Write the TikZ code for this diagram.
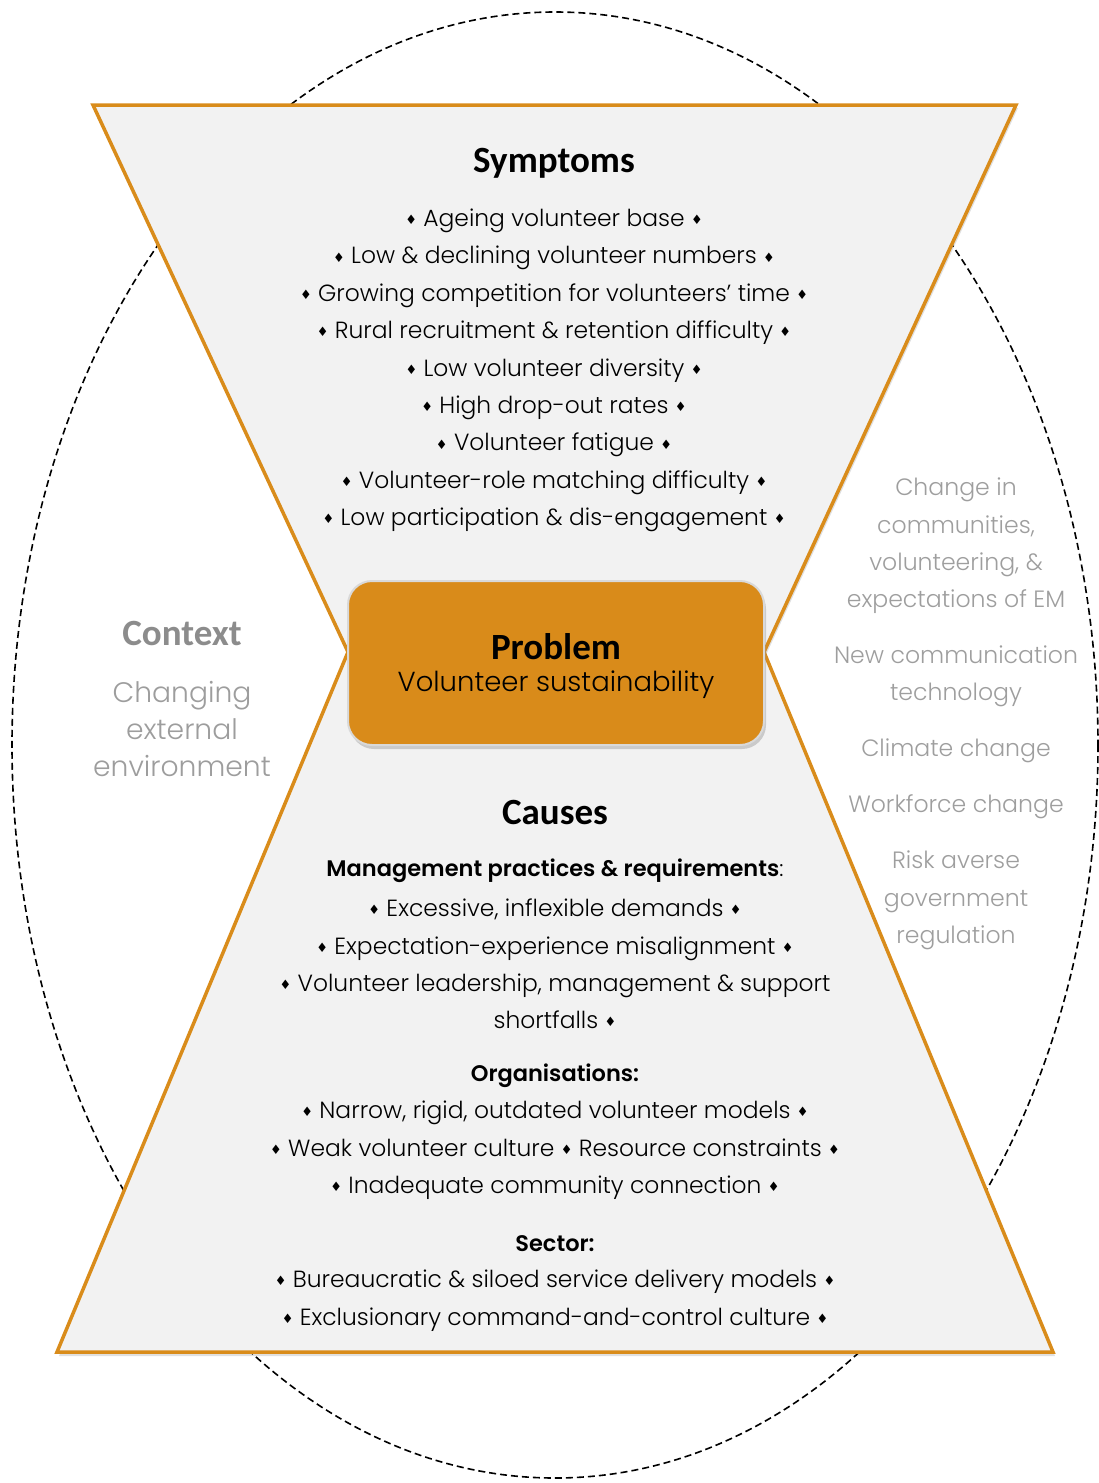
\documentclass[tikz,border=0pt]{standalone}
\usepackage{fontspec}
\setmainfont{Poppins}[UprightFont={* Light}, BoldFont={* SemiBold}]
\newfontfamily\carlito{Carlito}
\newfontfamily\dejavu{DejaVu Sans}
\usetikzlibrary{shadows}
\definecolor{orng}{HTML}{D98C1B}
\definecolor{boxfill}{HTML}{D98B1A}
\definecolor{shapefill}{HTML}{F2F2F2}
\definecolor{ctxgray}{HTML}{8C8C8C}
\definecolor{rgray}{HTML}{9E9E9E}
\newcommand{\dm}{{\dejavu\fontsize{13}{13}\selectfont\raisebox{0.15em}{♦}}}
\tikzset{
  shapestyle/.style={fill=shapefill, draw=orng, line width=3.5pt, line join=miter},
  shadowstyle/.style={fill=black, opacity=0.12},
  body/.style={font=\fontsize{23.4}{37.4}\selectfont, align=center, text=black},
  heading/.style={font=\carlito\bfseries\fontsize{37}{40}\selectfont, text=black},
  subhead/.style={font=\bfseries\fontsize{22.5}{37.4}\selectfont, text=black},
  righttext/.style={font=\fontsize{23.6}{37.4}\selectfont, align=center, text=rgray},
  ctxtext/.style={font=\fontsize{28.2}{37.4}\selectfont, align=center, text=ctxgray!85},
}
\begin{document}
\begin{tikzpicture}[x=1pt,y=-1pt]
\useasboundingbox (0,0) rectangle (1099,1483);
% dashed ellipse
\draw[dashed, line width=1.6pt, dash pattern=on 7pt off 4pt] (555,745) ellipse [x radius=543, y radius=733];
% shadows
\fill[shadowstyle] (95,108) -- (1018,108) -- (766,655) -- (350,655) -- cycle;
\fill[shadowstyle] (350,655) -- (766,655) -- (1055,1356) -- (59,1356) -- cycle;
% symptoms shape
\path[shapestyle] (93,105) -- (1016,105) -- (764,652) -- (348,652) -- cycle;
% causes shape
\path[shapestyle] (348,652) -- (764,652) -- (1053,1352) -- (57,1352) -- cycle;
% problem box
\node[draw=white!85!black, line width=2pt, fill=boxfill, rounded corners=24pt,
      minimum width=416pt, minimum height=164pt, inner sep=0pt,
      drop shadow={opacity=0.35, shadow xshift=2pt, shadow yshift=-4pt}] (problem) at (556,663) {};
\node[heading] (problemtitle) at (556,647) {Problem};
\node[font=\fontsize{27.5}{30}\selectfont] (problemtext) at (556,685) {Volunteer sustainability};
% symptoms
\node[heading] (symptoms) at (554,163) {Symptoms};
\node[body] (symlist) at (554,370.5) {%
\dm\ Ageing volunteer base \dm\\
\dm\ Low \& declining volunteer numbers \dm\\
\dm\ Growing competition for volunteers’ time \dm\\
\dm\ Rural recruitment \& retention difficulty \dm\\
\dm\ Low volunteer diversity \dm\\
\dm\ High drop-out rates \dm\\
\dm\ Volunteer fatigue \dm\\
\dm\ Volunteer-role matching difficulty \dm\\
\dm\ Low participation \& dis-engagement \dm};
% causes
\node[heading] (causes) at (555,812) {Causes};
\node[subhead] (mgmt) at (555,871) {Management practices \& requirements{\mdseries:}};
\node[body] (mgmtlist) at (555,964) {%
\dm\ Excessive, inflexible demands \dm\\
\dm\ Expectation-experience misalignment \dm\\
\dm\ Volunteer leadership, management \& support\\
shortfalls \dm};
\node[subhead] (orgs) at (555,1076) {Organisations:};
\node[body] (orglist) at (555,1150.5) {%
\dm\ Narrow, rigid, outdated volunteer models \dm\\
\dm\ Weak volunteer culture \dm\ Resource constraints \dm\\
\dm\ Inadequate community connection \dm};
\node[subhead] (sector) at (555,1244) {Sector:};
\node[body] (sectorlist) at (555,1300.5) {%
\dm\ Bureaucratic \& siloed service delivery models \dm\\
\dm\ Exclusionary command-and-control culture \dm};
% context
\node[font=\carlito\bfseries\fontsize{37}{40}\selectfont, text=ctxgray] (context) at (182,633) {Context};
\node[ctxtext] (ctxbody) at (182,729) {Changing\\external\\environment};
% right side
\node[righttext] (rt1) at (956,546) {Change in\\communities,\\volunteering, \&\\expectations of EM};
\node[righttext] (rt2) at (956,676.5) {New communication\\technology};
\node[righttext] (rt3) at (956,751) {Climate change};
\node[righttext] (rt4) at (956,807) {Workforce change};
\node[righttext] (rt5) at (956,900.5) {Risk averse\\government\\regulation};
\end{tikzpicture}
\end{document}
